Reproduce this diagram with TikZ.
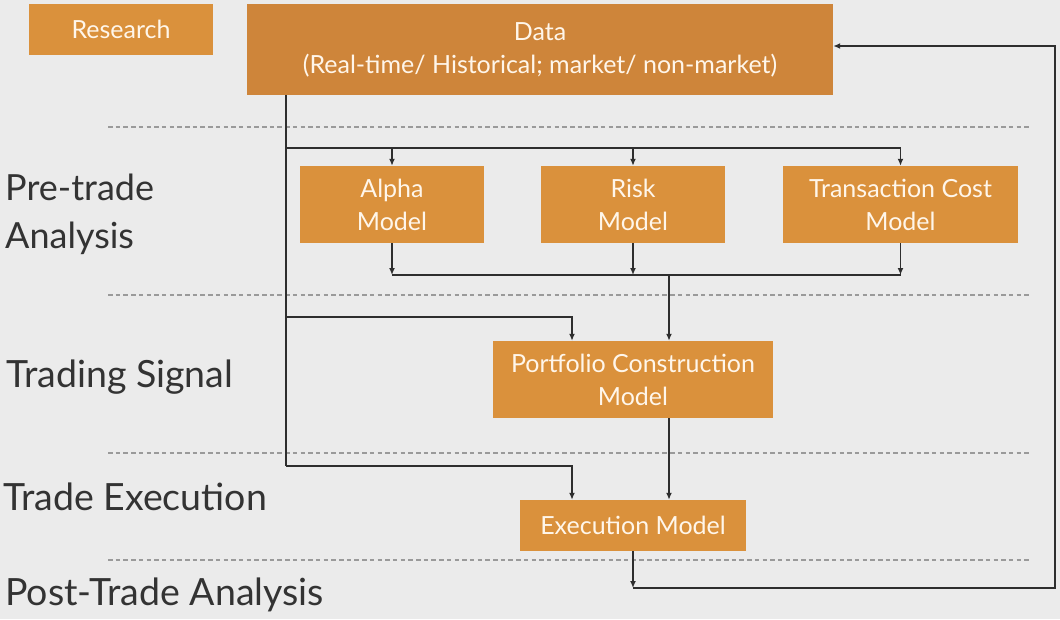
\documentclass[tikz,border=0pt]{standalone}
\usepackage{fontspec}
\setmainfont{Lato}
\usetikzlibrary{arrows.meta}
\definecolor{bg}{HTML}{EBEBEB}
\definecolor{boxc}{HTML}{DA913C}
\definecolor{datac}{HTML}{CE853A}
\definecolor{boxtext}{HTML}{FFF6EA}
\definecolor{linec}{HTML}{2E2E2E}
\definecolor{dashc}{HTML}{9A9A9A}
\definecolor{labc}{HTML}{333333}
\tikzset{
  box/.style={fill=boxc, draw=none, inner sep=0pt, text=boxtext, align=center,
    font=\fontsize{25}{33}\selectfont},
  conn/.style={draw=linec, line width=1.5pt},
  arr/.style={conn, -{Latex[length=7pt,width=6pt]}},
  sep/.style={draw=dashc, line width=1.6pt, dash pattern=on 4.5pt off 3.2pt},
  lab/.style={text=labc, inner sep=0pt, align=left, font=\fontsize{37.5}{48}\selectfont}
}
\begin{document}
\begin{tikzpicture}[x=1pt,y=-1pt]
\fill[bg] (0,0) rectangle (1060,619);
\useasboundingbox (0,0) rectangle (1060,619);
% separators
\coordinate (s1a) at (108,127); \coordinate (s1b) at (1030,127);
\coordinate (s2a) at (108,295); \coordinate (s2b) at (1030,295);
\coordinate (s3a) at (108,453); \coordinate (s3b) at (1030,453);
\coordinate (s4a) at (108,560); \coordinate (s4b) at (1030,560);
\draw[sep] (s1a) -- (s1b);
\draw[sep] (s2a) -- (s2b);
\draw[sep] (s3a) -- (s3b);
\draw[sep] (s4a) -- (s4b);
% boxes
\node[box, minimum width=184pt, minimum height=51pt] (research) at (121,29.5) {Research};
\node[box, fill=datac, minimum width=586pt, minimum height=91pt] (data) at (540,49.5) {Data\\(Real-time/ Historical; market/ non-market)};
\node[box, minimum width=184pt, minimum height=77pt] (alpha) at (392,204.5) {Alpha\\Model};
\node[box, minimum width=184pt, minimum height=77pt] (risk) at (633,204.5) {Risk\\Model};
\node[box, minimum width=235pt, minimum height=77pt] (tcm) at (900.5,204.5) {Transaction Cost\\Model};
\node[box, minimum width=280pt, minimum height=77pt] (pcm) at (633,379.5) {Portfolio Construction\\Model};
\node[box, minimum width=226pt, minimum height=51pt] (exec) at (633,525.5) {Execution Model};
% labels
\node[lab, anchor=west, font=\fontsize{36}{48}\selectfont] (l1) at (5,214) {Pre-trade\\Analysis};
\node[lab, anchor=base west] (l2) at (6,387) {Trading Signal};
\node[lab, anchor=base west] (l3) at (3,510) {Trade Execution};
\node[lab, anchor=base west] (l4) at (5,605) {Post-Trade Analysis};
% connectors
\coordinate (tA) at (286,148);
\coordinate (tB) at (286,317);
\coordinate (tC) at (286,466);
\coordinate (m) at (0,275);
\coordinate (fb) at (1055,588);
\coordinate (fbT) at (1055,46);
\draw[conn] (data.south -| tA) -- (tC);
\draw[arr] (tC) -| ([xshift=-61pt]exec.north);
\draw[arr] (tB) -| ([xshift=-61pt]pcm.north);
\draw[arr] (tA) -| (tcm.north);
\draw[arr] (alpha.north |- tA) -- (alpha.north);
\draw[arr] (risk.north |- tA) -- (risk.north);
\draw[arr] (alpha.south) -- (alpha.south |- m);
\draw[arr] (risk.south) -- (risk.south |- m);
\draw[arr] (tcm.south) -- (tcm.south |- m);
\draw[conn] (alpha.south |- m) -- (tcm.south |- m);
\draw[arr] ([xshift=36pt]pcm.north |- m) -- ([xshift=36pt]pcm.north);
\draw[arr] ([xshift=36pt]pcm.south) -- ([xshift=36pt]exec.north);
\draw[arr] (exec.south) -- (exec.south |- fb);
\draw[arr] (exec.south |- fb) -- (fb) -- (fbT) -- (data.east |- fbT);
\end{tikzpicture}
\end{document}
